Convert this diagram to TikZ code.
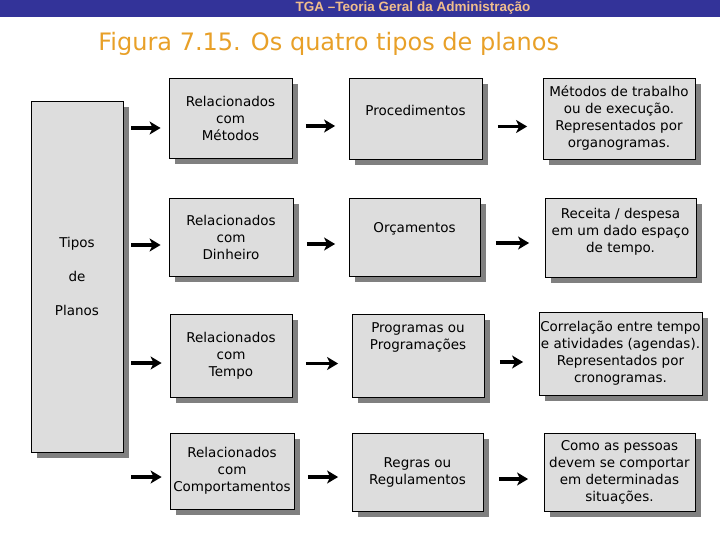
\documentclass[tikz,border=0pt]{standalone}
\usepackage{fontspec}
\setmainfont{DejaVu Sans}
\newfontfamily\cabfont{Liberation Sans}
\usetikzlibrary{arrows.meta,shadows,calc}
\definecolor{faixa}{RGB}{51,51,153}
\definecolor{faixatexto}{RGB}{240,190,140}
\definecolor{titulo}{RGB}{232,160,40}
\definecolor{cinza}{RGB}{221,221,221}

\begin{document}
\begin{tikzpicture}[x=1pt,y=-1pt,line width=0.8pt,
  caixa/.style={draw=black,fill=cinza,align=center,inner sep=0pt,
    font=\fontsize{13.5}{17}\selectfont,
    drop shadow={shadow xshift=6pt,shadow yshift=-6pt,fill=gray,opacity=1}},
  seta/.style={line width=3.4pt,-{Stealth[length=11pt,width=13pt,inset=3pt]},
    shorten <=#1,shorten >=#1}]
  \useasboundingbox (0,0) rectangle (720,540);
  \fill[faixa] (0,0) rectangle (720,17);
  \node[text=faixatexto,font=\cabfont\bfseries\fontsize{13.5}{14}\selectfont] (Cab) at (413,8.5) {TGA –Teoria Geral da Administração};
  \node[text=titulo,font=\fontsize{24}{28}\selectfont,anchor=west,inner sep=0pt] (Tit) at (98,44) {Figura 7.15. Os quatro tipos de planos};

  \node[caixa,minimum width=92pt,minimum height=351pt] (Tipos) at (77,276.5) {Tipos\\[17pt]de\\[17pt]Planos};

  \node[caixa,minimum width=123pt,minimum height=80pt] (RelMet) at (230.5,118) {Relacionados\\com\\Métodos};
  \node[caixa,minimum width=124pt,minimum height=78pt] (RelDin) at (231,237) {Relacionados\\com\\Dinheiro};
  \node[caixa,minimum width=122pt,minimum height=83pt] (RelTem) at (231,355.5) {Relacionados\\com\\Tempo};
  \node[caixa,minimum width=124pt,minimum height=76pt] (RelCom) at (232,471) {Relacionados\\com\\Comportamentos};

  \node[caixa,minimum width=133pt,minimum height=81pt,text depth=17pt] (Proc) at (415.5,118.5) {Procedimentos};
  \node[caixa,minimum width=131pt,minimum height=78pt,text depth=20pt] (Orc) at (414.5,237) {Orçamentos};
  \node[caixa,minimum width=132pt,minimum height=83pt,text depth=39pt] (Prog) at (418,355.5) {Programas ou\\Programações};
  \node[caixa,minimum width=131pt,minimum height=78pt] (Regr) at (417.5,472) {Regras ou\\Regulamentos};

  \node[caixa,minimum width=152pt,minimum height=81pt] (Met) at (619,118.5) {Métodos de trabalho\\ou de execução.\\Representados por\\organogramas.};
  \node[caixa,minimum width=151pt,minimum height=79pt,text depth=15pt] (Rec) at (620.5,237.5) {Receita / despesa\\em um dado espaço\\de tempo.};
  \node[caixa,minimum width=163pt,minimum height=83pt] (Cor) at (620.5,353.5) {Correlação entre tempo\\e atividades (agendas).\\Representados por\\cronogramas.};
  \node[caixa,minimum width=151pt,minimum height=78pt] (Com) at (619.5,472) {Como as pessoas\\devem se comportar\\em determinadas\\situações.};

  \draw[seta=8pt] ($(Tipos.east |- RelMet.west)+(0,10)$) -- ($(RelMet.west)+(0,10)$);
  \draw[seta=13.5pt] ($(RelMet.east)+(0,8)$) -- ($(RelMet.east -| Proc.west)+(0,8)$);
  \draw[seta=15.5pt] ($(Proc.east)+(0,8)$) -- ($(Proc.east -| Met.west)+(0,8)$);

  \draw[seta=8pt] ($(Tipos.east |- RelDin.west)+(0,8)$) -- ($(RelDin.west)+(0,8)$);
  \draw[seta=13.5pt] ($(RelDin.east)+(0,7)$) -- ($(RelDin.east -| Orc.west)+(0,7)$);
  \draw[seta=15.5pt] ($(Orc.east)+(0,6)$) -- ($(Orc.east -| Rec.west)+(0,6)$);

  \draw[seta=8pt] ($(Tipos.east |- RelTem.west)+(0,7.5)$) -- ($(RelTem.west)+(0,7.5)$);
  \draw[seta=13.5pt] ($(RelTem.east)+(0,8)$) -- ($(RelTem.east -| Prog.west)+(0,8)$);
  \draw[seta=15.5pt] ($(Prog.east)+(0,6.5)$) -- ($(Prog.east -| Cor.west)+(0,6.5)$);

  \draw[seta=8pt] ($(Tipos.east |- RelCom.west)+(0,6)$) -- ($(RelCom.west)+(0,6)$);
  \draw[seta=13.5pt] ($(RelCom.east)+(0,6)$) -- ($(RelCom.east -| Regr.west)+(0,6)$);
  \draw[seta=15.5pt] ($(Regr.east)+(0,7)$) -- ($(Regr.east -| Com.west)+(0,7)$);
\end{tikzpicture}
\end{document}
